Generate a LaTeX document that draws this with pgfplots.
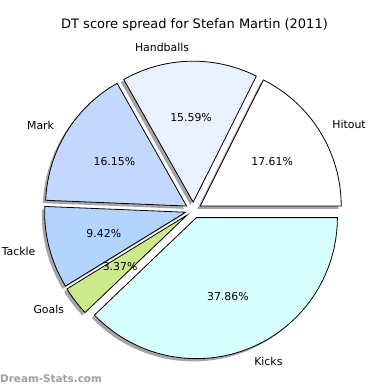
\documentclass[border=0pt]{standalone}
\usepackage{pgfplots}
\pgfplotsset{compat=1.18}
\usepackage{fontspec}
\setmainfont{DejaVu Sans}
\definecolor{cHit}{HTML}{FFFFFF}
\definecolor{cHand}{HTML}{E9F1FF}
\definecolor{cMark}{HTML}{C4D8FF}
\definecolor{cTack}{HTML}{B3D4FF}
\definecolor{cGoal}{HTML}{CDEA8B}
\definecolor{cKick}{HTML}{D8FFFF}
\def\cx{193.4}\def\cy{179.8}\def\R{141}\def\ex{8}
\def\cum{0}
\newcommand\shadowslice[1]{%
 \pgfmathsetmacro\aS{\cum*3.6}%
 \pgfmathsetmacro\aE{(\cum+#1)*3.6}%
 \pgfmathsetmacro\aM{(\aS+\aE)/2}%
 \pgfmathsetmacro\ox{\cx+\ex*cos(\aM)-2.8}%
 \pgfmathsetmacro\oy{\cy+\ex*sin(\aM)-2.8}%
 \edef\doit{\noexpand\addplot[draw=none, fill=black!70, fill opacity=0.5, domain=\aS:\aE, samples=90] ({\ox+\R*cos(x)},{\oy+\R*sin(x)}) -- (axis cs:\ox,\oy) -- cycle;}%
 \doit
 \pgfmathsetmacro\newcum{\cum+#1}\xdef\cum{\newcum}%
}
\newcommand\fillslice[3]{%
 \pgfmathsetmacro\aS{\cum*3.6}%
 \pgfmathsetmacro\aE{(\cum+#1)*3.6}%
 \pgfmathsetmacro\aM{(\aS+\aE)/2}%
 \pgfmathsetmacro\ox{\cx+\ex*cos(\aM)}%
 \pgfmathsetmacro\oy{\cy+\ex*sin(\aM)}%
 \pgfmathsetmacro\lx{\ox+1.1*\R*cos(\aM)}%
 \pgfmathsetmacro\ly{\oy+1.1*\R*sin(\aM)}%
 \pgfmathsetmacro\px{\ox+0.6*\R*cos(\aM)}%
 \pgfmathsetmacro\py{\oy+0.6*\R*sin(\aM)}%
 \pgfmathsetmacro\cs{cos(\aM)}%
 \ifdim\cs pt>0pt \def\anc{west}\else\def\anc{east}\fi
 \edef\doit{\noexpand\addplot[draw=black, line width=0.8pt, fill=#2, domain=\aS:\aE, samples=90] ({\ox+\R*cos(x)},{\oy+\R*sin(x)}) -- (axis cs:\ox,\oy) -- cycle;
 \noexpand\node[anchor=\anc, inner sep=0pt] at (axis cs:\lx,\ly) {#3};
 \noexpand\node[inner sep=0pt] at (axis cs:\px,\py) {#1\noexpand\%};}%
 \doit
 \pgfmathsetmacro\newcum{\cum+#1}\xdef\cum{\newcum}%
}
\begin{document}
\begin{tikzpicture}[font=\fontsize{10.9}{13}\selectfont]
\begin{axis}[
  width=390pt, height=390pt, scale only axis,
  xmin=0, xmax=390, ymin=0, ymax=390,
  hide axis, clip=false]
\path (axis cs:0,0) rectangle (axis cs:390,390);
\gdef\cum{0}
\shadowslice{17.61}
\shadowslice{15.59}
\shadowslice{16.15}
\shadowslice{9.42}
\shadowslice{3.37}
\shadowslice{37.86}
\gdef\cum{0}
\fillslice{17.61}{cHit}{Hitout}
\fillslice{15.59}{cHand}{Handballs}
\fillslice{16.15}{cMark}{Mark}
\fillslice{9.42}{cTack}{Tackle}
\fillslice{3.37}{cGoal}{Goals}
\fillslice{37.86}{cKick}{Kicks}
\node[font=\fontsize{13}{15}\selectfont] at (axis cs:194.5,365) {DT score spread for Stefan Martin (2011)};
\node[anchor=west, inner sep=0pt, text=black!38, font=\fontsize{10.4}{12}\selectfont\bfseries] at (axis cs:0,11) {Dream-Stats.com};
\end{axis}
\end{tikzpicture}
\end{document}
